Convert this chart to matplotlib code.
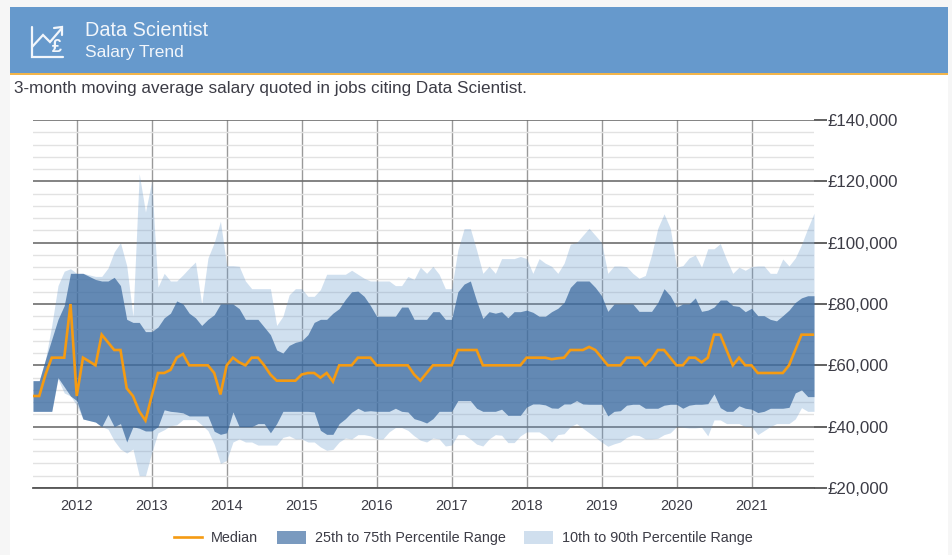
#!/usr/bin/env python
"""Data Scientist salary trend, 3-month moving average, Jun 2011 - Nov 2021."""
import matplotlib
matplotlib.use("Agg")
import matplotlib.pyplot as plt
import numpy as np
from matplotlib.patches import Patch, Rectangle

plt.rcParams["font.family"] = ["Liberation Sans", "DejaVu Sans"]

W, H = 952, 555
BLUE, ORANGE, TEXT = "#6699cc", "#f59b12", "#3c3c46"

years = list(range(2012, 2022))
first_year_month = 7  # Jan 2012 is the 8th monthly value
y_major = [20000, 40000, 60000, 80000, 100000, 120000, 140000]

# values in GBP thousands, one per month
median = [50, 50, 57, 62.5, 62.5, 62.5, 80, 50, 62.5, 61.3, 60, 70, 67.5, 65, 65, 52.5, 50, 45, 42, 50,
          57.5, 57.5, 58.5, 62.5, 63.7, 60, 60, 60, 60, 57.5, 50.5, 60, 62.5, 61, 60, 62.5, 62.5, 60, 57, 55,
          55, 55, 55, 57, 57.5, 57.5, 56, 57.5, 54.7, 60, 60, 60, 62.5, 62.5, 62.5, 60, 60, 60, 60, 60,
          60, 57, 55, 57.5, 60, 60, 60, 60, 65, 65, 65, 65, 60, 60, 60, 60, 60, 60, 60, 62.5,
          62.5, 62.5, 62.5, 62, 62.3, 62.5, 65, 65, 65, 66, 65, 62.5, 60, 60, 60, 62.5, 62.5, 62.5, 60, 62,
          65, 65, 62.5, 60, 60, 62.5, 62.5, 61, 62.5, 70, 70, 65, 60, 62.5, 60, 60, 57.5, 57.5, 57.5, 57.5,
          57.5, 60, 65, 70, 70, 70]
p75 = [55, 55, 62, 68.5, 75, 79.5, 90, 90, 90, 89, 88, 87.5, 87.5, 88.7, 86, 75, 74, 74, 71, 71,
       72.5, 75.5, 77, 81, 80, 77, 75.5, 73, 75, 76.5, 80, 80, 80, 78.5, 75, 75, 75, 72.5, 70, 65,
       64, 66.5, 67.5, 68, 70, 74, 75, 75, 77, 78.5, 81.5, 84, 84.2, 82.5, 79.5, 76, 76, 76, 76, 79,
       79, 75, 75, 75, 77.5, 77.5, 75, 75, 84, 86.5, 87.5, 81, 75.3, 77.5, 77, 77.5, 75.5, 77.5, 77.5, 78,
       77.3, 76, 76, 77.5, 78.6, 80.5, 85.4, 87.5, 87.5, 87.5, 85.4, 82.7, 77.6, 80, 80, 80, 80, 77.6, 77.6, 77.6,
       80.5, 85, 82.7, 79, 80, 80, 82, 77.6, 78, 79, 81.3, 81.3, 79.5, 79.2, 77.5, 78.6, 76.2, 76.2, 75, 74.5,
       76.2, 78, 80.5, 82, 82.7, 82.7]
p25 = [45, 45, 45, 45, 56, 53, 50, 48.5, 42.5, 42, 41.5, 40, 44, 40, 41, 35, 40, 39.5, 38.6, 38.6,
       40, 45.5, 45, 44.8, 44.5, 43.5, 43.5, 43.5, 43.5, 38.5, 37.5, 38, 44.8, 40, 40, 40, 41, 41, 38, 41,
       45, 45, 45, 45, 45, 44.8, 38.8, 37.5, 37.5, 41, 42.6, 44.7, 46, 45, 45.2, 45, 45, 45, 46, 45,
       44.8, 42.6, 42, 41.2, 42.6, 45, 45, 45, 48.5, 48.5, 48.5, 46, 45, 45, 45, 45.7, 43.7, 43.7, 43.7, 46.4,
       47.4, 47.4, 47.1, 46.1, 46, 47.4, 47.4, 48.5, 47.4, 47.3, 47.3, 47.3, 43.5, 45, 45.2, 47, 47.3, 47.3, 46, 46,
       46, 47, 47.3, 47.3, 46, 47, 47.3, 47.3, 47.5, 50.7, 46.2, 45, 45, 46.8, 46, 45.7, 44.6, 45, 46, 46,
       46, 46.3, 51, 52, 49.8, 49.8]
p90 = [55, 55, 62, 73, 86, 90.7, 91.5, 90, 90, 89.5, 89, 89, 91.7, 97, 100, 92.5, 76, 122.5, 110, 120,
       85.5, 90, 87.5, 87.5, 89.5, 91.7, 93.7, 80, 95, 100, 107, 92.5, 92.5, 92.3, 87.5, 85, 85, 85, 85, 73,
       76, 83, 85, 85, 82.5, 82.5, 84.7, 89.7, 89.7, 89.7, 89.7, 91, 89.7, 88.4, 87.5, 87.5, 87.5, 87.5, 86, 86,
       89, 88, 92, 90, 92.3, 89.7, 85, 85, 97.6, 104.6, 104.6, 97.6, 90, 92.3, 90, 94.8, 94.8, 94.8, 95.5, 94.8,
       90, 94.8, 93.3, 92.3, 90, 93.3, 99.5, 100, 102.4, 104.7, 102.4, 100, 90, 92.4, 92.4, 92.2, 90, 88.4, 89.3, 96,
       104.7, 109.4, 104.7, 92, 92.5, 95, 96, 92, 98, 98, 99.7, 94.5, 90, 92, 91, 92.2, 92.4, 92.4, 90, 90,
       94.7, 92.4, 95, 99.4, 104.7, 109.6]
p10 = [45, 45, 45, 45, 55.5, 51, 50, 47, 42.5, 42, 41.5, 40, 39.2, 35.4, 32.7, 31.4, 32.7, 24, 24, 31.5,
       38, 39, 40.3, 40.6, 42.3, 42.3, 42.3, 40.6, 38.7, 34.3, 28, 29, 35, 36, 35, 35, 34, 34, 34, 34,
       36.5, 37, 36, 36, 35, 35, 33.4, 32.3, 32.6, 35, 36.3, 36, 37.4, 37.4, 37, 36, 36, 38.3, 39.7, 39.7,
       38.8, 37, 35.6, 35, 36.3, 36, 33.7, 34, 37.4, 37.4, 36, 34.3, 33.7, 36, 37.4, 37.2, 34.8, 34.8, 37, 38.3,
       38.3, 38.3, 37, 35, 37.4, 37.7, 40, 41, 39.5, 38, 36.5, 35, 33.6, 34.4, 35, 36.5, 37.3, 37.1, 36, 36,
       36.2, 37.4, 38, 40, 39.8, 39.6, 39.6, 39.8, 37, 42.2, 42.2, 41, 41, 41, 40, 40.1, 37.4, 38.7, 40, 41,
       41, 41, 42.5, 46.2, 45, 45]


def main():
    fig = plt.figure(figsize=(W / 100, H / 100), dpi=100, facecolor="#f6f6f6")

    # page furniture is laid out in pixels on a full figure axes
    bg = fig.add_axes([0, 0, 1, 1], zorder=0)
    bg.set_xlim(0, W); bg.set_ylim(H, 0); bg.axis("off")
    bg.add_patch(Rectangle((10, 7), 938, H - 7, color="white", lw=0))
    bg.add_patch(Rectangle((10, 7), 938, 66, color=BLUE, lw=0))
    bg.add_patch(Rectangle((10, 73), 938, 2, color="#f3b54a", lw=0))
    icon = dict(color="#f2f6fb", lw=1.6, solid_capstyle="round", solid_joinstyle="miter")
    bg.plot([32, 32, 63], [27, 57, 57], **icon)
    bg.plot([32, 43, 50, 62], [47, 35, 42, 28], **icon)
    bg.plot([54, 62, 62], [28, 27, 35], **icon)
    bg.text(57, 47, "£", color="#f2f6fb", fontsize=13, fontweight="bold", ha="center", va="center")
    bg.text(85, 31, "Data Scientist", color="#f2f6fb", fontsize=14.3, va="center")
    bg.text(85, 52, "Salary Trend", color="#f2f6fb", fontsize=12.5, va="center")
    bg.text(14, 88, "3-month moving average salary quoted in jobs citing Data Scientist.",
            color=TEXT, fontsize=12.3, va="center")

    ax = fig.add_axes([33 / W, 1 - 488 / H, 781 / W, 368 / H], zorder=1)
    ax.patch.set_alpha(0)
    x = np.arange(len(median))
    ax.set_xlim(0, len(median) - 1)
    ax.set_ylim(20000, 140000)

    for s in ["left", "right", "top"]:
        ax.spines[s].set_visible(False)
    ax.spines["bottom"].set_color("#555555")
    ax.spines["bottom"].set_linewidth(1.3)

    ax.set_yticks(y_major)
    ax.set_yticklabels([f"£{v:,}" for v in y_major], fontsize=12.2, color=TEXT)
    ax.yaxis.tick_right()
    ax.tick_params(axis="y", length=9, width=1.3, color="#555555", pad=1)
    ax.set_yticks(np.arange(20000, 140001, 4000), minor=True)
    ax.tick_params(axis="y", which="minor", length=0)
    ax.set_xticks([first_year_month + 12 * i for i in range(len(years))])
    ax.set_xticklabels(years, fontsize=10.5, color=TEXT)
    ax.tick_params(axis="x", length=0, pad=8)

    ax.grid(True, which="minor", axis="y", color="#e2e2e2", lw=1.0, zorder=1)
    ax.grid(True, which="major", axis="y", color="#6e6e6e", lw=1.2, zorder=1)
    ax.grid(True, which="major", axis="x", color="#9a9a9a", lw=1.0, zorder=1)
    ax.set_axisbelow(True)

    k = 1000 * np.ones(len(median))
    ax.fill_between(x, np.array(p10) * k, np.array(p90) * k, color=BLUE, alpha=0.3, lw=0, zorder=2)
    ax.fill_between(x, np.array(p25) * k, np.array(p75) * k, color="#35659c", alpha=0.7, lw=0, zorder=3)
    ax.plot(x, np.array(median) * k, color=ORANGE, lw=1.9, zorder=4, solid_joinstyle="miter")

    handles = [
        plt.Line2D([], [], color=ORANGE, lw=1.9),
        Patch(color="#7a9abf", lw=0),
        Patch(color="#d0dfee", lw=0),
    ]
    fig.legend(handles, ["Median", "25th to 75th Percentile Range", "10th to 90th Percentile Range"],
               loc="center", bbox_to_anchor=(463 / W, 1 - 538 / H), ncol=3, frameon=False,
               fontsize=10.4, labelcolor=TEXT, handlelength=2.0, handleheight=1.1,
               handletextpad=0.6, columnspacing=1.3)

    fig.savefig("out.png", dpi=100, facecolor=fig.get_facecolor())
    plt.close(fig)


if __name__ == "__main__":
    main()
